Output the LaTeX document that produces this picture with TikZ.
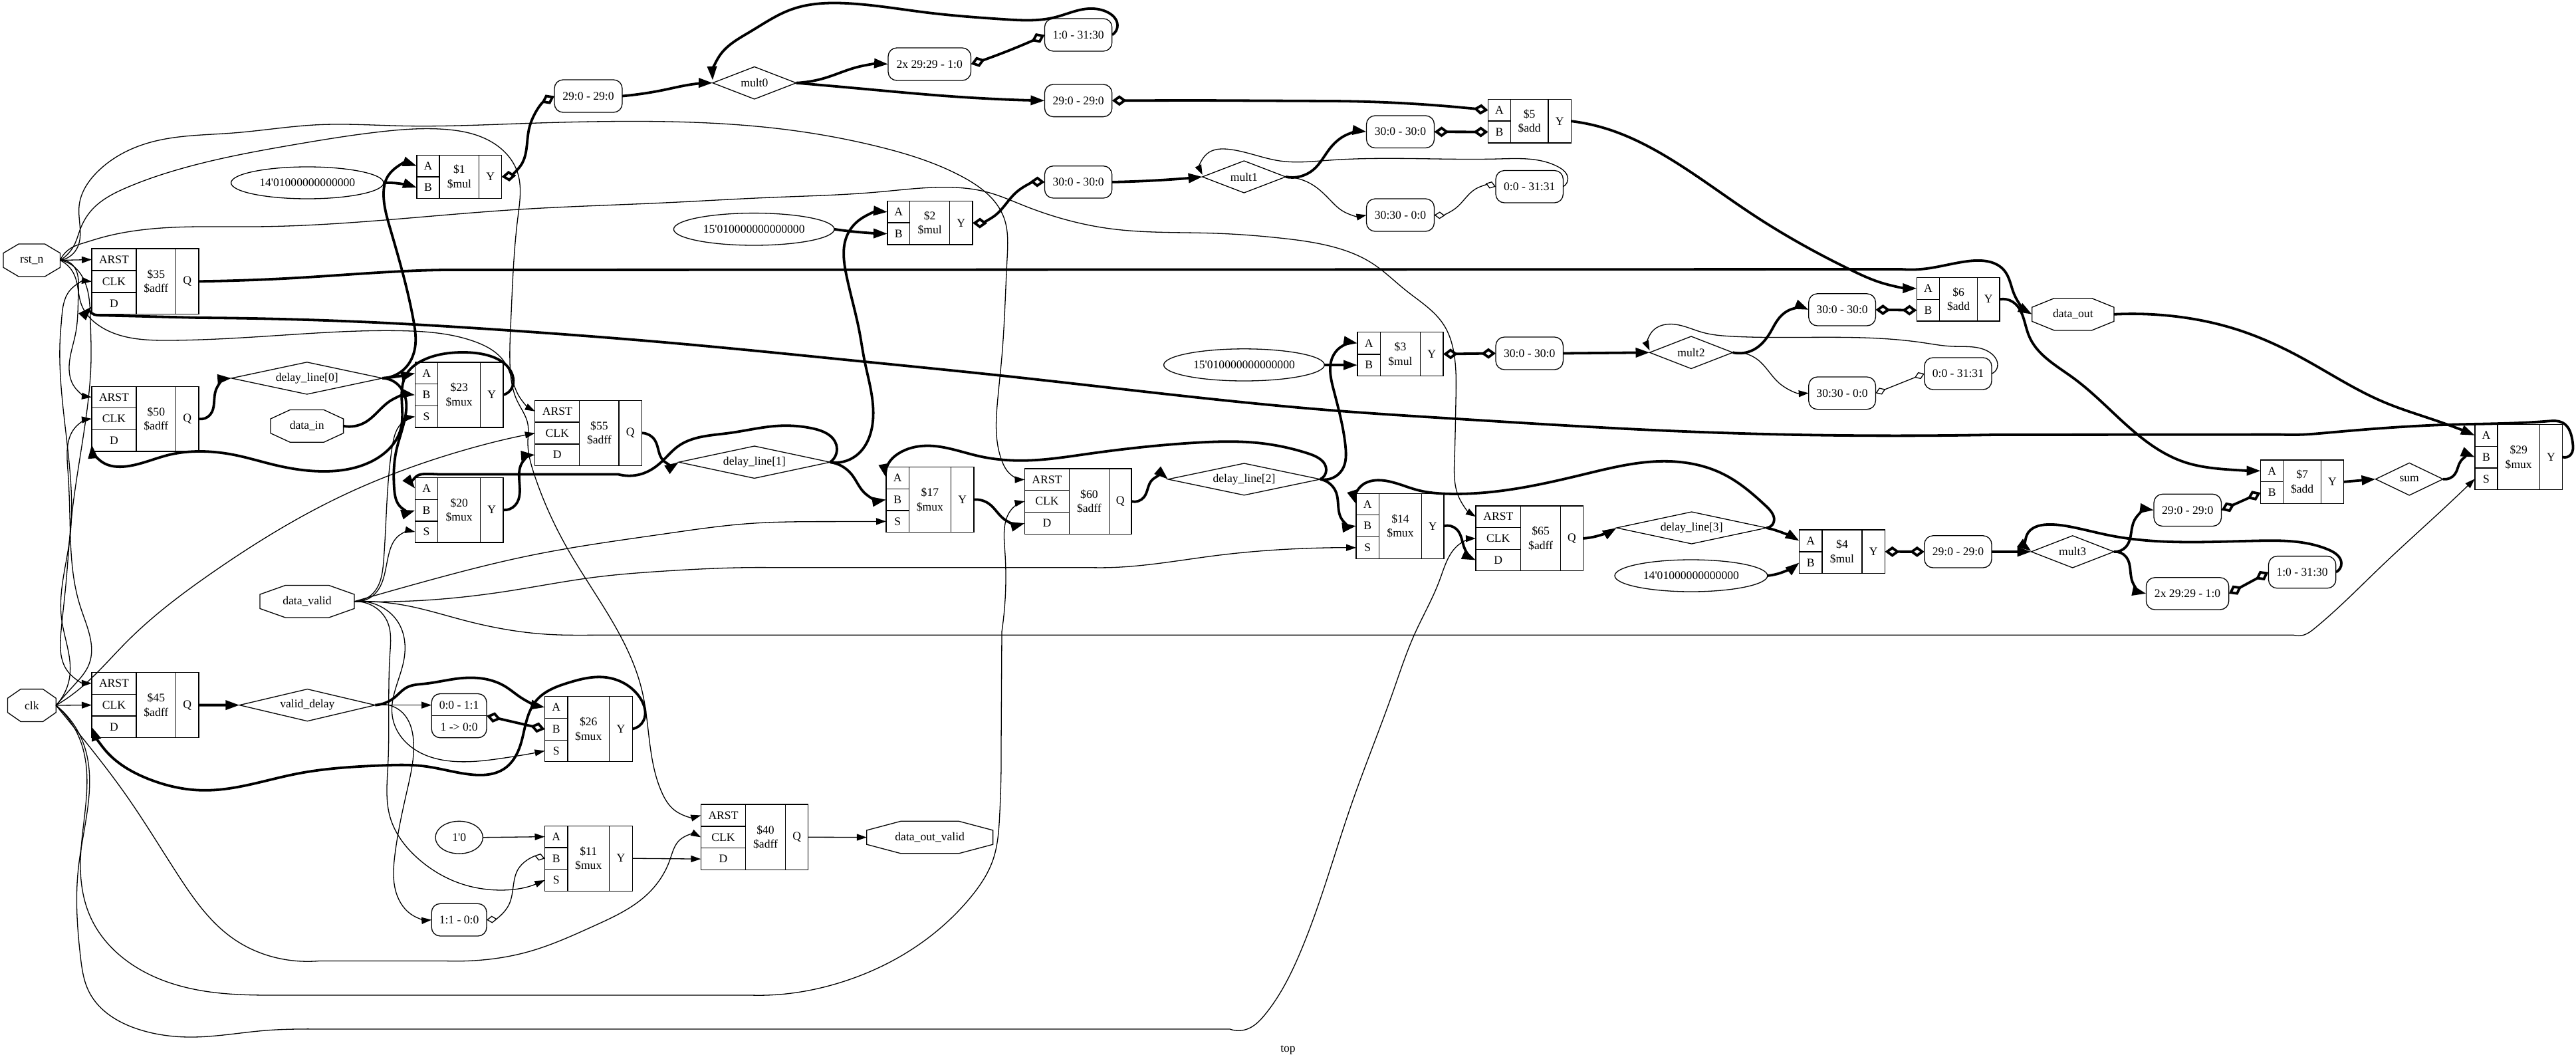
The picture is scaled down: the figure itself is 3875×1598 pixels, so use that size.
\documentclass[tikz,border=0pt]{standalone}
\usepackage{fontspec}
\newfontfamily\gvfont{Liberation Serif}
\usetikzlibrary{arrows.meta,hobby,shapes.geometric}
\tikzset{
  ln/.style={line width=1.3pt,draw=black},
  plain/.style={inner sep=0pt,outer sep=0pt,font=\gvfont\fontsize{17.6}{21.7}\selectfont,align=center},
  cell/.style={plain,ln},
  rbox/.style={plain,ln,rounded corners=13pt},
  tw/.style={line width=1.3pt,-{Triangle[length=15pt,width=10pt]},use Hobby shortcut},
  bw/.style={line width=3.8pt,-{Triangle[length=21pt,width=14pt]},use Hobby shortcut},
  td/.style={line width=1.3pt,{Diamond[open,length=16pt,width=11pt]}-{Diamond[open,length=16pt,width=11pt]},use Hobby shortcut},
  bd/.style={line width=3.8pt,{Diamond[open,length=22pt,width=16pt]}-{Diamond[open,length=22pt,width=16pt]},use Hobby shortcut},
}
% two-row record: name x0 x1 x2 x3 y0 y1 y2 | A B mid Y
\newcommand{\recTwo}[9]{\def\rn{#1}\def\xa{#2}\def\xb{#3}\def\xc{#4}\def\xd{#5}\def\ya{#6}\def\yb{#7}\def\yc{#8}\def\lA{#9}\recTwoB}
\newcommand{\recTwoB}[3]{%
  \node[cell,minimum width={(\xb-\xa)*1pt},minimum height={(\yb-\ya)*1pt}] (\rn a) at ({(\xa+\xb)/2},{(\ya+\yb)/2}) {\lA};
  \node[cell,minimum width={(\xb-\xa)*1pt},minimum height={(\yc-\yb)*1pt}] (\rn b) at ({(\xa+\xb)/2},{(\yb+\yc)/2}) {#1};
  \node[cell,minimum width={(\xc-\xb)*1pt},minimum height={(\yc-\ya)*1pt}] (\rn m) at ({(\xb+\xc)/2},{(\ya+\yc)/2}) {#2};
  \node[cell,minimum width={(\xd-\xc)*1pt},minimum height={(\yc-\ya)*1pt}] (\rn o) at ({(\xc+\xd)/2},{(\ya+\yc)/2}) {#3};
}
% three-row record: name x0 x1 x2 x3 y0 y1 y2 y3 | A B C mid Y
\newcommand{\recThree}[9]{\def\rn{#1}\def\xa{#2}\def\xb{#3}\def\xc{#4}\def\xd{#5}\def\ya{#6}\def\yb{#7}\def\yc{#8}\def\yd{#9}\recThreeB}
\newcommand{\recThreeB}[5]{%
  \node[cell,minimum width={(\xb-\xa)*1pt},minimum height={(\yb-\ya)*1pt}] (\rn a) at ({(\xa+\xb)/2},{(\ya+\yb)/2}) {#1};
  \node[cell,minimum width={(\xb-\xa)*1pt},minimum height={(\yc-\yb)*1pt}] (\rn b) at ({(\xa+\xb)/2},{(\yb+\yc)/2}) {#2};
  \node[cell,minimum width={(\xb-\xa)*1pt},minimum height={(\yd-\yc)*1pt}] (\rn c) at ({(\xa+\xb)/2},{(\yc+\yd)/2}) {#3};
  \node[cell,minimum width={(\xc-\xb)*1pt},minimum height={(\yd-\ya)*1pt}] (\rn m) at ({(\xb+\xc)/2},{(\ya+\yd)/2}) {#4};
  \node[cell,minimum width={(\xd-\xc)*1pt},minimum height={(\yd-\ya)*1pt}] (\rn o) at ({(\xc+\xd)/2},{(\ya+\yd)/2}) {#5};
}
% name x0 x1 y0 y1 text
\newcommand{\gnode}[6]{\node[plain,minimum width={(#3-#2)*1pt},minimum height={(#5-#4)*1pt}] (#1) at ({(#2+#3)/2},{(#4+#5)/2}) {#6};}
\newcommand{\rnd}[6]{\node[rbox,minimum width={(#3-#2)*1pt},minimum height={(#5-#4)*1pt}] (#1) at ({(#2+#3)/2},{(#4+#5)/2}) {#6};}
\newcommand{\octa}[6]{\gnode{#1}{#2}{#3}{#4}{#5}{#6}
  \draw[ln] ({#2+.27*(#3-#2)},#4) -- ({#3-.27*(#3-#2)},#4) -- (#3,{#4+.28*(#5-#4)}) -- (#3,{#5-.28*(#5-#4)}) -- ({#3-.27*(#3-#2)},#5) -- ({#2+.27*(#3-#2)},#5) -- (#2,{#5-.28*(#5-#4)}) -- (#2,{#4+.28*(#5-#4)}) -- cycle;}
\newcommand{\dia}[6]{\gnode{#1}{#2}{#3}{#4}{#5}{#6}
  \draw[ln] (#1.north) -- (#1.east) -- (#1.south) -- (#1.west) -- cycle;}
\newcommand{\ovl}[6]{\node[plain,ln,ellipse,minimum width={(#3-#2)*1pt},minimum height={(#5-#4)*1pt}] (#1) at ({(#2+#3)/2},{(#4+#5)/2}) {#6};}
\begin{document}
\begin{tikzpicture}[x=1pt,y=-1pt]
\useasboundingbox (0,0) rectangle (3875,1598);
\fill[white] (0,0) rectangle (3875,1598);
% ports
\octa{rst}{5}{90.5}{367}{416}{rst\_n}
\octa{clk}{11.5}{84.2}{1036.6}{1085.4}{clk}
\octa{din}{406.9}{516.6}{616.4}{665.3}{data\_in}
\octa{dv}{391}{533}{880.5}{929}{data\_valid}
\octa{dout}{3056.7}{3179.9}{448.7}{496.9}{data\_out}
\octa{dov}{1303.8}{1493.6}{1235.3}{1283.8}{data\_out\_valid}
% wires as diamonds
\dia{mA}{1072}{1197.7}{100.5}{149}{mult0}
\dia{mB}{1808.7}{1934}{242}{290}{mult1}
\dia{mC}{2481.5}{2606.5}{506}{554.5}{mult2}
\dia{mD}{3055.5}{3179.9}{805.8}{854}{mult3}
\dia{dlA}{348.2}{575.3}{544.8}{593}{delay\_line[0]}
\dia{dlB}{1021}{1248.7}{671}{719.4}{delay\_line[1]}
\dia{dlC}{1757}{1986}{697}{744.8}{delay\_line[2]}
\dia{dlD}{2431.8}{2657.5}{770}{818}{delay\_line[3]}
\dia{vd}{360.3}{564.4}{1036.6}{1084.7}{valid\_delay}
\dia{sum}{3573.5}{3674.9}{696.4}{745}{sum}
% constants
\ovl{kA}{347.6}{577}{251}{299}{14'01000000000000}
\ovl{kB}{1013.4}{1255}{320.6}{369}{15'010000000000000}
\ovl{kC}{1750.6}{1992.3}{524.8}{573}{15'010000000000000}
\ovl{kD}{2429}{2658.8}{842}{890}{14'01000000000000}
\ovl{kE}{655}{726.4}{1235.3}{1284.1}{1'0}
% slices
\rnd{sA}{834}{936}{120}{169}{29:0 - 29:0}
\rnd{sB}{1336}{1460.5}{72}{121}{2x 29:29 - 1:0}
\rnd{sC}{1571.4}{1672.8}{28}{77}{1:0 - 31:30}
\rnd{sD}{1571.4}{1672.8}{127}{175.6}{29:0 - 29:0}
\rnd{sE}{1571.4}{1672.8}{249.7}{298}{30:0 - 30:0}
\rnd{sF}{2055.5}{2157.5}{174}{222.5}{30:0 - 30:0}
\rnd{sG}{2055.5}{2157.5}{299}{348}{30:30 - 0:0}
\rnd{sH}{2250}{2351.4}{256.5}{305}{0:0 - 31:31}
\rnd{sI}{2250}{2351.4}{507}{556}{30:0 - 30:0}
\rnd{sJ}{2720.7}{2821.4}{441.8}{490}{30:0 - 30:0}
\rnd{sK}{2720.7}{2821.4}{567}{615.7}{30:30 - 0:0}
\rnd{sL}{2894.8}{2996}{538}{586}{0:0 - 31:31}
\rnd{sM}{2894.8}{2996}{805.8}{854}{29:0 - 29:0}
\rnd{sN}{3240}{3341.5}{743.3}{791.5}{29:0 - 29:0}
\rnd{sO}{3228.4}{3352.7}{868.8}{917}{2x 29:29 - 1:0}
\rnd{sP}{3412.4}{3513.8}{836.6}{884.8}{1:0 - 31:30}
\rnd{sQ}{649.2}{732}{1359.3}{1408}{1:1 - 0:0}
\rnd{sR}{649.2}{732}{1043.5}{1109.8}{}
\node[plain] (sRa) at (690.6,1060.5) {0:0 - 1:1};
\node[plain] (sRb) at (690.6,1093.5) {1 -> 0:0};
\draw[ln] (sR.west |- 0,1076.7) -- (sR.east |- 0,1076.7);
% cells
\recTwo{rA}{627}{661}{720.7}{754.5}{233.5}{266}{298.5}{A}{B}{\$1\\\$mul}{Y}
\recTwo{rB}{1335}{1368.6}{1428.6}{1463}{302.7}{335}{368}{A}{B}{\$2\\\$mul}{Y}
\recTwo{rC}{2042}{2076.5}{2136.5}{2171}{499.7}{533}{565.4}{A}{B}{\$3\\\$mul}{Y}
\recTwo{rD}{2706.6}{2741}{2801}{2835.5}{797}{830}{862.6}{A}{B}{\$4\\\$mul}{Y}
\recTwo{rE}{2238.5}{2272.3}{2329}{2363.5}{149.5}{182}{215}{A}{B}{\$5\\\$add}{Y}
\recTwo{rF}{2883.3}{2917.7}{2974.5}{3008}{417.4}{450.4}{483}{A}{B}{\$6\\\$add}{Y}
\recTwo{rG}{3400.6}{3434.8}{3491.4}{3525.6}{692}{724.5}{757.6}{A}{B}{\$7\\\$add}{Y}
\recThree{qA}{138}{205}{264.7}{299}{374}{407}{440}{472.5}{ARST}{CLK}{D}{\$35\\\$adff}{Q}
\recThree{qB}{138}{205}{264.7}{299}{581.3}{613.6}{646.3}{679}{ARST}{CLK}{D}{\$50\\\$adff}{Q}
\recThree{qC}{138}{205}{264.7}{299}{1011.4}{1044.2}{1077}{1109.8}{ARST}{CLK}{D}{\$45\\\$adff}{Q}
\recThree{qD}{804.8}{871.8}{931}{965.6}{602.3}{635}{668}{700.4}{ARST}{CLK}{D}{\$55\\\$adff}{Q}
\recThree{qE}{1541.5}{1608.4}{1668.4}{1702}{705}{737.6}{770.7}{803.4}{ARST}{CLK}{D}{\$60\\\$adff}{Q}
\recThree{qF}{2220}{2287.6}{2347.6}{2381.4}{761}{793.4}{826.4}{858.8}{ARST}{CLK}{D}{\$65\\\$adff}{Q}
\recThree{qG}{1054.3}{1121.7}{1181.4}{1215.8}{1210}{1243}{1275.7}{1308.5}{ARST}{CLK}{D}{\$40\\\$adff}{Q}
\recThree{uA}{624.4}{658.8}{722.6}{757}{545}{577.8}{610.5}{643}{A}{B}{S}{\$23\\\$mux}{Y}
\recThree{uB}{624.4}{658.8}{722.6}{757}{718.3}{751.4}{784}{816.1}{A}{B}{S}{\$20\\\$mux}{Y}
\recThree{uC}{1333}{1367.3}{1430.5}{1465}{702.5}{735.2}{768}{800.6}{A}{B}{S}{\$17\\\$mux}{Y}
\recThree{uD}{2040}{2074.6}{2138.4}{2172}{742.4}{774.8}{807.5}{840.2}{A}{B}{S}{\$14\\\$mux}{Y}
\recThree{uE}{3722.8}{3757}{3820.4}{3854.6}{638.4}{671.4}{704}{736.6}{A}{B}{S}{\$29\\\$mux}{Y}
\recThree{uF}{819.5}{854}{916.5}{951.5}{1047.3}{1080.5}{1113.3}{1145.7}{A}{B}{S}{\$26\\\$mux}{Y}
\recThree{uG}{819.5}{854}{916.5}{951.5}{1242.2}{1275}{1307.8}{1340.2}{A}{B}{S}{\$11\\\$mux}{Y}
\node[plain] (title) at (1937.5,1579) {top};
% --- rst fan-out
\draw[tw] (rst.east) -- (qAa.west);
\draw[tw] (rst.east) .. (105,395) .. (118,440) .. (114,500) .. (104,552) .. (112,582) .. (qBa.west);
\draw[tw] (rst.east) .. (110,400) .. (128,425) .. (136,482) .. (137,540) .. (128,638) .. (108,775) .. (99,880) .. (92,948) .. (102,1010) .. (qCa.west);
\draw[tw] (rst.east) .. (111.6,413) .. (122.4,458) .. (153,492.4) .. (255,512) .. (446,502.8) .. (606,497.6) .. (714,513.8) .. (759,544.8) .. (781,596.4) .. (qDa.west);
\draw[tw] (rst.east) .. (115,375) .. (119,310) .. (147,258) .. (223,215) .. (351,200) .. (478,187.7) .. (606,189.4) .. (780,186) .. (957,182.5) .. (1191,196) .. (1319,220) .. (1446,265) .. (1510,327) .. (1515,389) .. (1507,537) .. (1500.6,603) .. (1507,693) .. (1520,713.5) .. (qEa.west);
\draw[tw] (rst.east) .. (107,373) .. (127.5,365) .. (147,359) .. (383,341) .. (781,315) .. (1000,305) .. (1160,297) .. (1319,289) .. (1414.5,281.7) .. (1485,289) .. (1542,310) .. (1670,344) .. (1829,351) .. (1925,358) .. (2000,370) .. (2064,396) .. (2115,437) .. (2172,489) .. (2188,537) .. (2190,603) .. (2188,689) .. (2194.5,748) .. (qFa.west);
\draw[tw] (rst.east) .. (112,368) .. (121,344) .. (137,317) .. (191,282) .. (268,255) .. (446,217) .. (574,198) .. (670,194.6) .. (733,210) .. (778,258) .. (779,327) .. (768.5,482) .. (767,545) .. (778,603) .. (794,638) .. (794,665) .. (803.6,713.5) .. (854.6,827) .. (966,1040) .. (995,1190.7) .. (1015,1219) .. (qGa.west);
% --- clk fan-out
\draw[tw] (clk.east) -- (qCb.west);
\draw[tw] (clk.east) .. (105,1016.5) .. (92.5,930) .. (105,810) .. (105,706.6) .. (91,500) .. (92.5,482) .. (105,437) .. (qAb.west);
\draw[tw] (clk.east) .. (112,1030) .. (134,999) .. (121,913) .. (105,775) .. (102,706.6) .. (115,641) .. (qBb.west);
\draw[tw] (clk.east) .. (115,1040) .. (191,965) .. (319,861.6) .. (510,748) .. (638,696) .. (qDb.west);
\draw[tw] (clk.east) .. (127.6,1114.4) .. (191,1198) .. (268,1316.5) .. (351,1412) .. (446,1445.5) .. (480,1445.5) -- (670,1445.5) .. (701.5,1445.5) .. (797,1431) .. (893,1393) .. (976,1343) .. (1007.6,1293.7) .. (1023,1263) .. (qGb.west);
\draw[tw] (clk.east) .. (121,1114.4) .. (121,1305) .. (137,1381.4) .. (223,1465) .. (332,1494) .. (400,1497) .. (430,1497) -- (1130,1497) .. (1153,1497) .. (1268,1476.7) .. (1367,1431) .. (1459,1351) .. (1493.6,1293.7) .. (1503.6,1228.8) .. (1506,1120) -- (1507,950) .. (1511.5,827) .. (1526,761.7) .. (qEb.west);
\draw[tw] (clk.east) .. (124,1114.4) .. (118,1305) .. (121,1438.6) .. (134,1492) .. (210.5,1549) .. (287,1560) .. (400,1550) .. (446.4,1548) .. (480,1548) -- (1850,1548) .. (1876,1548) .. (1903,1526) .. (1956.6,1431) .. (2033,1209.8) .. (2095.7,1040) .. (2127.6,954.5) .. (2165.8,872) .. (2197.7,816.8) .. (qFb.west);
% --- data_valid fan-out
\draw[tw] (dv.east) .. (561,892.6) .. (577,844) .. (590,672) .. (603,637.7) .. (uAc.west);
\draw[tw] (dv.east) .. (561,896) .. (586.7,827) .. (599.5,806) .. (uBc.west);
\draw[tw] (dv.east) .. (638,875) .. (797,835.7) .. (1000,803) .. (1127.6,787.5) .. (1250,784.6) .. (uCc.west);
\draw[tw] (dv.east) .. (638,903) .. (765,889) .. (893,868.5) .. (1000,859) .. (1127.6,853.7) .. (1160,853.7) -- (1640,853.7) .. (1670,853.7) .. (1829,835.7) .. (1950,825.5) .. (uDc.west);
\draw[tw] (dv.east) .. (606,910) .. (701.5,934) .. (829,954.5) .. (900,955.3) .. (930,955.3) -- (3450,955.3) .. (3466,955) .. (3482,945) .. (3584,850) .. (3677,764) .. (uEc.west);
\draw[tw] (dv.east) .. (561,911.5) .. (583.5,937) .. (586.7,982) .. (583.5,1152.5) .. (586.7,1228.8) .. (631.4,1293.7) .. (701.5,1331.8) .. (uGc.west);
\draw[tw] (dv.east) .. (567.6,910) .. (599.5,937) .. (609,982) .. (606,1000) .. (590,1076) .. (612,1118) .. (689,1145.7) .. (752.6,1141) .. (uFc.west);
% --- top chain
\draw[bd] (rAo.east) .. (784,248) .. (796,193) .. (sA.west);
\draw[bw] (sA.east) .. (1000,135) .. (1040,127) .. (mA.west);
\draw[bw] (kA.east) .. (600,276) .. (rAb.west);
\draw[bw] (mA.east) .. (1242,117) .. (1287,101.6) .. (sB.west);
\draw[bw] (mA.east) .. (1287,132.6) .. (1446,146) .. (sD.west);
\draw[bd] (sB.east) .. (1510,79) .. (sC.west);
\draw[bw] (sC.east) .. (1681,38) .. (1663,17) .. (1638,13) .. (1587,26) .. (1510,29) .. (1395,19) .. (1274,5) .. (1191,14) .. (1128,48) .. (1083,83) .. ([yshift=4pt]mA.west);
\draw[bd] (sD.east) .. (1800,151) -- (2000,152) .. (2191,161) .. (rEa.west);
\draw[bd] (sF.east) -- (rEb.west);
\draw[bw] (kB.east) .. (1290,349) .. (rBb.west);
\draw[bd] (rBo.east) .. (1497,324) .. (1529,289) .. (sE.west);
\draw[bw] (sE.east) .. (1745,271) .. (mB.west);
\draw[bw] (mB.east) .. (1976,255) .. (2000,224) .. (2025,203) .. (sF.west);
\draw[tw] (mB.east) .. (1976,279) .. (2000,300) .. (2019,317) .. (sG.west);
\draw[td] (sG.east) .. (2190,313) .. (2220,284) .. (sH.west);
\draw[tw] (sH.east) .. (2358.4,268.6) .. (2344,251) .. (2255,239) .. (2000,241) .. (1925,242) .. (1848,224.5) .. (1816,231) .. ([yshift=3pt]mB.west);
\draw[bw] (rEo.east) .. (2414.5,193) .. (2510,237.6) .. (2638,323.7) .. (2784,406) .. (2829,425) .. (rFa.west);
\draw[bd] (sJ.east) -- (rFb.west);
\draw[bw] (kC.east) -- (rCb.west);
\draw[bd] (rCo.east) -- (sI.west);
\draw[bw] (sI.east) -- (mC.west);
\draw[bw] (mC.east) .. (2638,526) .. (2663,500) .. (2675,480) .. (2695,465) .. (sJ.west);
\draw[tw] (mC.east) .. (2644,541) .. (2676,576) .. (sK.west);
\draw[td] (sK.east) .. (2860,576) .. (sL.west);
\draw[tw] (sL.east) .. (3004,554) .. (2993,530) .. (2937,521) .. (2893,515.5) .. (2606,506) .. (2561,500) .. (2520,488) .. (2485,499) .. ([yshift=3pt]mC.west);
% --- $35 Q and the long feedback
\draw[bw] (qAo.east) .. (446,418) .. (606,408) .. (670,406) .. (700,406) -- (2860,405) .. (2893,404.6) .. (2963,392.6) .. (3015,407) .. (3030,443) .. (dout.west);
\draw[bw] (dout.east) .. (3273,476) .. (3366,496) .. (3460,537) .. (3584,604) .. (3677,637) .. (uEa.west);
\draw[bw] (rFo.east) .. (3027.5,454) .. (3052,505) .. (3118,568) .. (3211,650) .. (3285.6,695) .. (3348,706) .. (rGa.west);
\draw[bw] (uEo.east) .. (3867,684) .. (3870,666) .. (3854.6,635.7) .. (3833,633.5) .. (3677,639) .. (3500,651) .. (3466,653.6) .. (3430,653.6) -- (3000,654) .. (2510,648) .. (2191,630) .. (2000,617) .. (1510,565.4) .. (1300,544) .. (1000,515) .. (780,498) .. (574,485.5) .. (300,478) -- (160,474.5) .. (146,474) .. (138,471) .. ([yshift=-5pt]qAc.west);
% --- delay line
\draw[bw] (qBo.east) .. (316,624) .. (325,586) .. (dlA.west);
\draw[bw] (dlA.east) .. (600,566) .. (uAa.west);
\draw[bw] (dlA.east) .. (612,551) .. (625,517) .. (622,482) .. (587,344) .. (577,293) .. (583.5,265) .. (rAa.west);
\draw[bw] (dlA.east) .. (600,580) .. (598,670) .. (593,735) .. (603,763) .. (uBb.west);
\draw[bw] (din.east) .. (548,636) .. (587,603) .. (uAb.west);
\draw[bw] (uAo.east) .. (768.5,586) .. (768.5,558.5) .. (733.5,534.4) .. (695,530) .. (638,541) .. (612,562) .. (603,644.6) .. (561,693) .. (485,709) .. (414.5,699.7) .. (351,684) .. (300,679) .. (255,684) .. (191,701.4) .. (153,694.6) .. ([yshift=-6pt]qBc.west);
\draw[bw] (qDo.east) .. (985,662) .. (998,693) .. (dlB.west);
\draw[bw] (dlB.east) .. (1258,669) .. (1223,644.6) .. (1172,640.5) .. (1096,651.5) .. (1019,672) .. (1000,690) .. (985,703) .. (963,713.5) .. (930,713.5) -- (660,713.5) .. (640,713) .. (627,716) .. (uBa.west);
\draw[bw] (dlB.east) .. (1287,686) .. (1312.5,638) .. (1312.5,603) .. (1300,540) .. (1293,500) .. (1273,413) .. (1274,354.7) .. (1293,330.6) .. (rBa.west);
\draw[bw] (dlB.east) .. (1281,713.5) .. (1300,741) .. (uCb.west);
\draw[bw] (uBo.east) .. (775,760) .. (781,720) .. (786,695) .. (qDc.west);
\draw[bw] (uCo.east) .. (1488,758) .. (1510,780.6) .. (qEc.west);
\draw[bw] (qEo.east) .. (1720.7,748) .. (1733,722) .. (dlC.west);
\draw[bw] (dlC.east) .. (1995,706.6) .. (1969,682.5) .. (1893,666.3) .. (1797,666) .. (1638,682.5) .. (1536,692.8) .. (1472,686) .. (1395,670.5) .. (1351,682.5) .. (1336,698) .. (uCa.west);
\draw[bw] (dlC.east) .. (2019,706.6) .. (2024,672) .. (2006,586) .. (2006,534) .. (2020,520) .. (rCa.west);
\draw[bw] (dlC.east) .. (2010,741) .. (2019,782) .. (uDb.west);
\draw[bw] (uDo.east) .. (2191,796) .. (2204,827) .. (qFc.west);
\draw[bw] (qFo.east) .. (2402,806.5) .. (dlD.west);
\draw[bw] (dlD.east) .. (2668,785.8) .. (2657,761.7) .. (2593,713.5) .. (2497.4,693.9) .. (2382.6,713.5) .. (2287,734) .. (2178.6,742.8) .. (2134,737.6) .. (2083,723) .. (2044.6,734) .. (uDa.west);
\draw[bw] (dlD.east) .. (2675,799) .. (rDa.west);
\draw[bw] (kD.east) .. (2679,861.6) .. (rDb.west);
\draw[bd] (rDo.east) -- (sM.west);
\draw[bw] (sM.east) -- (mD.west);
\draw[bw] (mD.east) .. (3198.5,822) .. (3211,782) .. (sN.west);
\draw[bw] (mD.east) .. (3198.5,838) .. (3208,876) .. (sO.west);
\draw[bd] (sN.east) -- (rGb.west);
\draw[bd] (sO.east) -- (sP.west);
\draw[bw] (sP.east) .. (3522,847) .. (3503,827) .. (3397.5,813.4) .. (3173.6,805.4) .. (3117.7,793) .. (3080,789) .. (3049,804.5) .. ([yshift=1pt]mD.west);
\draw[bw] (rGo.east) -- (sum.west);
\draw[bw] (sum.east) .. (3693,713) .. (3702,693) .. (uEb.west);
% --- valid delay
\draw[bw] (qCo.east) -- (vd.west);
\draw[bw] (vd.east) .. (593,1049.6) .. (612,1034) .. (638,1028.6) .. (695,1020) .. (759,1032) .. (784,1049.6) .. (uFa.west);
\draw[tw] (vd.east) -- (sR.west |- vd.east);
\draw[bd] (sR.east |- 0,1076.7) -- (uFb.west);
\draw[tw] (vd.east) .. (606,1072.5) .. (622,1114.4) .. (612,1190.7) .. (594,1286) .. (596,1343) .. (622,1377.6) .. (sQ.west);
\draw[bw] (uFo.east) .. (968,1084) .. (963,1050) .. (912,1019) .. (855,1027) .. (807,1053.4) .. (791,1088) .. (781,1126) .. (759,1156) .. (708,1165) .. (638,1152.5) .. (574,1151.4) .. (446,1164) .. (306,1188.8) .. (223,1171.6) .. (159.4,1129.7) .. (qCc.west);
\draw[tw] (kE.east) -- (uGa.west);
\draw[td] (sQ.east) .. (765,1362) .. (781,1305) .. (uGb.west);
\draw[tw] (uGo.east) -- (qGc.west);
\draw[tw] (qGo.east) -- (dov.west);
\end{tikzpicture}
\end{document}
